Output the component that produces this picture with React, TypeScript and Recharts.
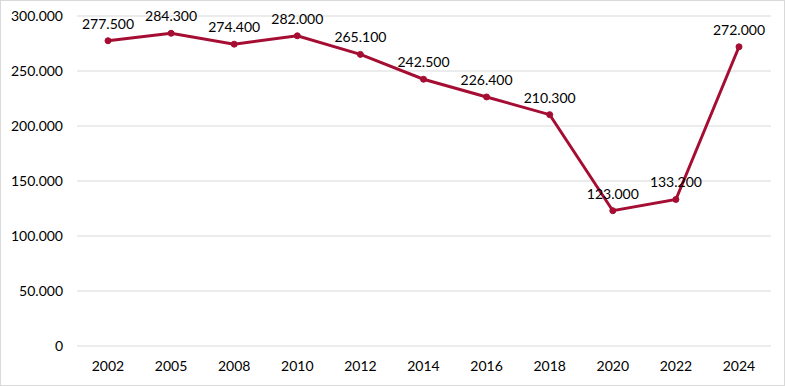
import React from "react";
import { LineChart, Line, XAxis, YAxis, CartesianGrid, LabelList } from "recharts";

const years = ["2002", "2005", "2008", "2010", "2012", "2014", "2016", "2018", "2020", "2022", "2024"];
const values = [277500, 284300, 274400, 282000, 265100, 242500, 226400, 210300, 123000, 133200, 272000];
const yTicks = [0, 50000, 100000, 150000, 200000, 250000, 300000];

const data = years.map((y, i) => ({ year: y, value: values[i] }));

const fmt = (v: any) => {
  const n = Math.round(Number(v));
  return n.toString().replace(/\B(?=(\d{3})+(?!\d))/g, ".");
};

const FONT = "Lato, 'Open Sans', sans-serif";

export default function App() {
  return (
    <div
      style={{
        position: "fixed",
        left: 0,
        top: 0,
        width: 785,
        height: 386,
        border: "1px solid #d9d9d9",
        boxSizing: "border-box",
        background: "#fff",
      }}
    >
      <LineChart
        width={783}
        height={384}
        data={data}
        margin={{ top: 15, right: 13, bottom: 0, left: 0 }}
        style={{ fontFamily: FONT }}
      >
        <CartesianGrid vertical={false} stroke="#d9d9d9" strokeWidth={1} />
        <XAxis
          dataKey="year"
          axisLine={false}
          tickLine={false}
          tickSize={0}
          tickMargin={15}
          height={39}
          interval={0}
          padding={{ left: 31, right: 32 }}
          tick={{ fill: "#000", fontSize: 14, fontFamily: FONT }}
        />
        <YAxis
          width={76}
          domain={[0, 300000]}
          ticks={yTicks}
          axisLine={false}
          tickLine={false}
          tickSize={0}
          tickMargin={14}
          tickFormatter={fmt}
          tick={{ fill: "#000", fontSize: 14, fontFamily: FONT }}
        />
        <Line
          type="linear"
          dataKey="value"
          stroke="#a50d33"
          strokeWidth={3}
          dot={{ r: 3, fill: "#a50d33", stroke: "#a50d33", strokeWidth: 1 }}
          activeDot={false}
          isAnimationActive={false}
        >
          <LabelList
            dataKey="value"
            position="top"
            offset={12}
            formatter={fmt}
            style={{ fill: "#000", fontSize: 14, fontFamily: FONT }}
          />
        </Line>
      </LineChart>
    </div>
  );
}
